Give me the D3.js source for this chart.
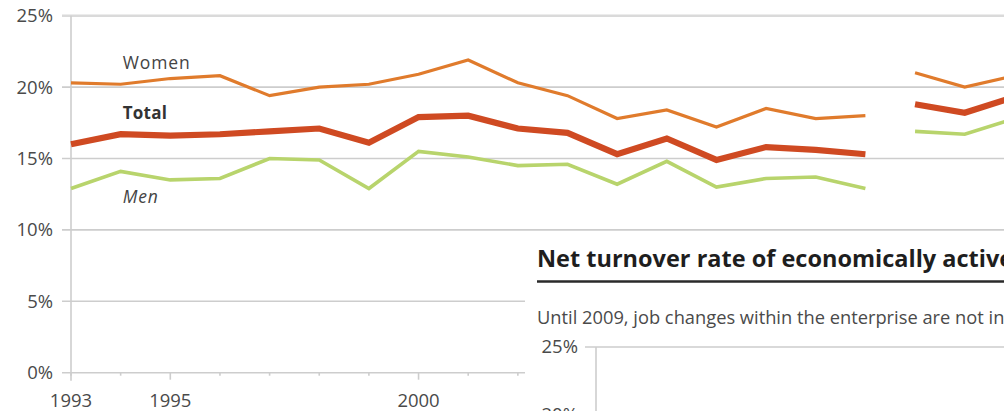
<!DOCTYPE html>
<html>
<head>
<meta charset="utf-8">
<script src="https://cdn.jsdelivr.net/npm/d3@7"></script>
<style>
  html, body { margin: 0; padding: 0; background: #fff; }
  svg { display: block; }
  text { font-family: "Open Sans", "Noto Sans", sans-serif; }
</style>
</head>
<body>
<svg id="chart" width="1004" height="411"></svg>
<script>
// ---- data ----
const years = [1993,1994,1995,1996,1997,1998,1999,2000,2001,2002,2003,2004,2005,2006,2007,2008,2009,2010,2011,2012];
const breakYear = 2010; // series break (method change)
const women = [20.3,20.2,20.6,20.8,19.4,20.0,20.2,20.9,21.9,20.3,19.4,17.8,18.4,17.2,18.5,17.8,18.0,21.0,20.0,20.8];
const total = [16.0,16.7,16.6,16.7,16.9,17.1,16.1,17.9,18.0,17.1,16.8,15.3,16.4,14.9,15.8,15.6,15.3,18.8,18.2,19.3];
const men   = [12.9,14.1,13.5,13.6,15.0,14.9,12.9,15.5,15.1,14.5,14.6,13.2,14.8,13.0,13.6,13.7,12.9,16.9,16.7,17.8];
const yTicks = [0,5,10,15,20,25];
const xLabelYears = [1993,1995,2000,2005,2010];
const majorYears = [1995,2000,2005,2010];
const seriesNames = ["Women","Total","Men"];
const insetTitle = "Net turnover rate of economically active persons";
const insetSubtitle = "Until 2009, job changes within the enterprise are not included.";
const insetYTicks = [25,20];

// ---- layout ----
const svg = d3.select("#chart");
const W = 1004, H = 411;
const x = d3.scaleLinear().domain([1993, 2012]).range([71, 71 + 19*49.65]);
const y = d3.scaleLinear().domain([0, 25]).range([372.7, 15.7]);

const gridColor = "#cdcdcd";
const textColor = "#4a4a4a";

// gridlines
const grid = svg.append("g");
grid.selectAll("line").data(yTicks).join("line")
  .attr("x1", 62).attr("x2", W)
  .attr("y1", d => y(d)).attr("y2", d => y(d))
  .attr("stroke", d => d === 25 ? "#dadada" : gridColor)
  .attr("stroke-width", d => d === 25 ? 2.5 : 1.6);

// y labels
svg.append("g").selectAll("text").data(yTicks).join("text")
  .attr("x", 53).attr("y", d => y(d))
  .attr("dy", "0.35em")
  .attr("text-anchor", "end")
  .attr("font-size", 18.5)
  .attr("fill", textColor)
  .text(d => d + "%");

// y axis line
svg.append("line")
  .attr("x1", x(1993)).attr("x2", x(1993))
  .attr("y1", y(25)).attr("y2", y(0) + 8)
  .attr("stroke", gridColor).attr("stroke-width", 1.6);

// x ticks
svg.append("g").selectAll("line").data(years).join("line")
  .attr("x1", d => x(d)).attr("x2", d => x(d))
  .attr("y1", y(0))
  .attr("y2", d => y(0) + (majorYears.includes(d) ? 7 : 3))
  .attr("stroke", gridColor).attr("stroke-width", 1.6);

// x labels
svg.append("g").selectAll("text").data(xLabelYears).join("text")
  .attr("x", d => x(d)).attr("y", 407)
  .attr("text-anchor", "middle")
  .attr("font-size", 18.5)
  .attr("fill", textColor)
  .text(d => d);

// lines
const series = [
  {name: "Women", values: women, color: "#e07b2c", width: 3.2},
  {name: "Total", values: total, color: "#cf4a22", width: 6.2},
  {name: "Men",   values: men,   color: "#b8d46c", width: 3.6}
];
const line = d3.line().x(d => x(d.year)).y(d => y(d.v));
const lineG = svg.append("g");
series.forEach(s => {
  const pts = years.map((yr, i) => ({year: yr, v: s.values[i]}));
  const segs = [pts.filter(p => p.year < breakYear), pts.filter(p => p.year >= breakYear)];
  segs.forEach(seg => {
    lineG.append("path")
      .attr("d", line(seg))
      .attr("fill", "none")
      .attr("stroke", s.color)
      .attr("stroke-width", s.width)
      .attr("stroke-linejoin", "miter");
  });
});

// series labels
const labelX = x(1994) + 2;
svg.append("text").attr("x", labelX).attr("y", 68.5)
  .attr("font-size", 17.5).attr("fill", "#444").attr("letter-spacing", 0.9)
  .text(seriesNames[0]);
svg.append("text").attr("x", labelX).attr("y", 119)
  .attr("font-size", 17).attr("font-weight", "bold").attr("fill", "#333").attr("letter-spacing", 0.3)
  .text(seriesNames[1]);
svg.append("text").attr("x", labelX).attr("y", 203)
  .attr("font-size", 17.5).attr("font-style", "italic").attr("fill", "#444").attr("letter-spacing", 0.9)
  .text(seriesNames[2]);

// ---- inset panel overlapping ----
const inset = svg.append("g");
inset.append("rect")
  .attr("x", 525).attr("y", 236).attr("width", W - 525).attr("height", H - 236)
  .attr("fill", "#fff");
inset.append("text")
  .attr("x", 537).attr("y", 267)
  .attr("font-size", 23.5).attr("font-weight", "bold").attr("fill", "#1e1e1e")
  .text(insetTitle);
inset.append("line")
  .attr("x1", 537).attr("x2", W).attr("y1", 281.5).attr("y2", 281.5)
  .attr("stroke", "#2a2a2a").attr("stroke-width", 2.6);
inset.append("text")
  .attr("x", 537).attr("y", 324)
  .attr("font-size", 18.3).attr("fill", "#4a4a4a")
  .text(insetSubtitle);

const yi = d3.scaleLinear().domain([20, 25]).range([415, 347]);
inset.selectAll("line.ig").data(insetYTicks).join("line").attr("class", "ig")
  .attr("x1", 585).attr("x2", W)
  .attr("y1", d => yi(d)).attr("y2", d => yi(d))
  .attr("stroke", gridColor).attr("stroke-width", 1.6);
inset.selectAll("text.il").data(insetYTicks).join("text").attr("class", "il")
  .attr("x", 578).attr("y", d => yi(d)).attr("dy", "0.35em")
  .attr("text-anchor", "end").attr("font-size", 18.5).attr("fill", textColor)
  .text(d => d + "%");
inset.append("line")
  .attr("x1", 596).attr("x2", 596).attr("y1", yi(25)).attr("y2", H)
  .attr("stroke", gridColor).attr("stroke-width", 1.6);
</script>
</body>
</html>
